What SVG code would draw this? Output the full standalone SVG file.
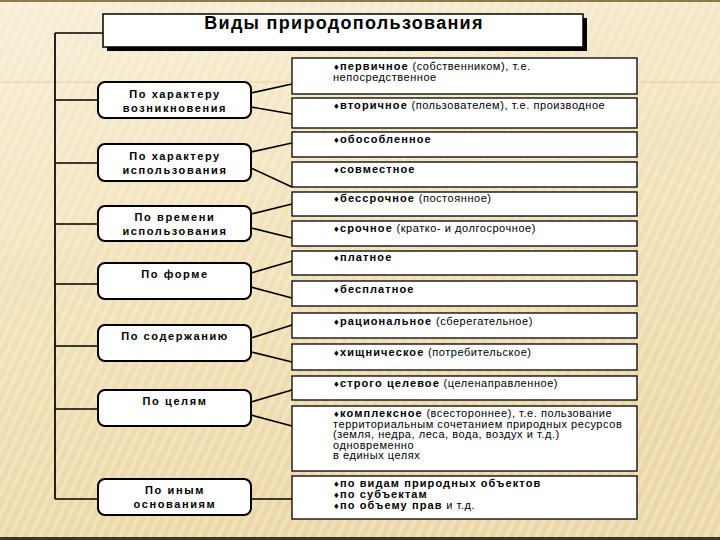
<svg xmlns="http://www.w3.org/2000/svg" width="720" height="540" viewBox="0 0 720 540">
<defs>
<linearGradient id="bg" x1="0" y1="0" x2="0.3" y2="1">
<stop offset="0" stop-color="#f8eed6"/>
<stop offset="0.5" stop-color="#f2e2b9"/>
<stop offset="1" stop-color="#ecd8a6"/>
</linearGradient>
<pattern id="stripes" width="9" height="9" patternUnits="userSpaceOnUse" patternTransform="rotate(25)">
<rect x="0" y="0" width="4" height="9" fill="#ffffff" fill-opacity="0.22"/>
</pattern>
<style>
.lbox{fill:#ffffff;stroke:#000000;stroke-width:2}
.rbox{fill:#ffffff;stroke:#000000;stroke-width:1.3}
.conn{stroke:#000000;stroke-width:1.7;fill:none}
.lt{font-family:"Liberation Sans",Arial,sans-serif;font-size:11px;font-weight:bold;letter-spacing:1.6px;text-anchor:middle;fill:#000}
.rt{font-family:"Liberation Sans",Arial,sans-serif;font-size:11px;letter-spacing:0.55px;fill:#000}
.b{font-weight:bold;letter-spacing:1.1px}
.d{font-family:"DejaVu Sans",sans-serif;font-size:7.5px;letter-spacing:0.3px}
.title{font-family:"Liberation Sans",Arial,sans-serif;font-size:18px;font-weight:bold;letter-spacing:1.3px;text-anchor:middle;fill:#000}
</style>
</defs>
<rect x="0" y="0" width="720" height="540" fill="url(#bg)"/>
<rect x="0" y="0" width="720" height="540" fill="url(#stripes)"/>
<line x1="0" y1="82" x2="720" y2="82" stroke="#e6c38c" stroke-width="1" stroke-opacity="0.7"/>
<rect x="0" y="0" width="720" height="2" fill="#8a7a4a"/>
<rect x="0" y="537" width="720" height="3" fill="#3b3526"/>

<g id="connectors">
<path class="conn" d="M55,33 L103,33 M55,33 L55,499 M55,100 L98,100 M55,163 L98,163 M55,224 L98,224 M55,284 L98,284 M55,346 L98,346 M55,409 L98,409 M55,499 L98,499"/>
<path class="conn" d="M251,93 L292,84 M251,107 L292,114 M251,152 L292,143 M251,168 L292,187 M251,214 L292,204 M251,228 L292,238 M251,273 L292,261 M251,287 L292,298 M251,338 L292,325 M251,352 L292,362 M251,402 L292,390 M251,415 L292,426 M251,499 L292,499"/>
</g>

<g id="title">
<rect x="107" y="18" width="480" height="33" fill="#000"/>
<rect x="103" y="14" width="480" height="33" fill="#fff" stroke="#000" stroke-width="1.5"/>
<text class="title" x="344" y="29">Виды природопользования</text>
</g>

<g id="l1"><rect class="lbox" x="98" y="82" width="153" height="36" rx="7"/>
<text class="lt" x="175" y="98">По характеру</text><text class="lt" x="175" y="112">возникновения</text></g>
<g id="l2"><rect class="lbox" x="98" y="144" width="153" height="37" rx="7"/>
<text class="lt" x="175" y="160">По характеру</text><text class="lt" x="175" y="174">использования</text></g>
<g id="l3"><rect class="lbox" x="98" y="206" width="153" height="35" rx="7"/>
<text class="lt" x="175" y="221">По времени</text><text class="lt" x="175" y="235">использования</text></g>
<g id="l4"><rect class="lbox" x="98" y="263" width="153" height="36" rx="7"/>
<text class="lt" x="175" y="278">По форме</text></g>
<g id="l5"><rect class="lbox" x="98" y="325" width="153" height="36" rx="7"/>
<text class="lt" x="175" y="340">По содержанию</text></g>
<g id="l6"><rect class="lbox" x="98" y="390" width="153" height="36" rx="7"/>
<text class="lt" x="175" y="405">По целям</text></g>
<g id="l7"><rect class="lbox" x="98" y="479" width="153" height="36" rx="7"/>
<text class="lt" x="175" y="494">По иным</text><text class="lt" x="175" y="508">основаниям</text></g>

<g id="r1"><rect class="rbox" x="292" y="58" width="345" height="36"/>
<text class="rt" x="333" y="69.5"><tspan class="d">♦</tspan><tspan class="b">первичное</tspan> (собственником), т.е.</text>
<text class="rt" x="333" y="80.5">непосредственное</text></g>
<g id="r2"><rect class="rbox" x="292" y="98" width="345" height="30"/>
<text class="rt" x="333" y="109"><tspan class="d">♦</tspan><tspan class="b">вторичное</tspan> (пользователем), т.е. производное</text></g>
<g id="r3"><rect class="rbox" x="292" y="132" width="345" height="25"/>
<text class="rt" x="333" y="143"><tspan class="d">♦</tspan><tspan class="b">обособленное</tspan></text></g>
<g id="r4"><rect class="rbox" x="292" y="162" width="345" height="25"/>
<text class="rt" x="333" y="173"><tspan class="d">♦</tspan><tspan class="b">совместное</tspan></text></g>
<g id="r5"><rect class="rbox" x="292" y="192" width="345" height="24"/>
<text class="rt" x="333" y="202"><tspan class="d">♦</tspan><tspan class="b">бессрочное</tspan> (постоянное)</text></g>
<g id="r6"><rect class="rbox" x="292" y="221" width="345" height="25"/>
<text class="rt" x="333" y="232"><tspan class="d">♦</tspan><tspan class="b">срочное</tspan> (кратко- и долгосрочное)</text></g>
<g id="r7"><rect class="rbox" x="292" y="251" width="345" height="24"/>
<text class="rt" x="333" y="261"><tspan class="d">♦</tspan><tspan class="b">платное</tspan></text></g>
<g id="r8"><rect class="rbox" x="292" y="281" width="345" height="25"/>
<text class="rt" x="333" y="293"><tspan class="d">♦</tspan><tspan class="b">бесплатное</tspan></text></g>
<g id="r9"><rect class="rbox" x="292" y="313" width="345" height="25"/>
<text class="rt" x="333" y="325"><tspan class="d">♦</tspan><tspan class="b">рациональное</tspan> (сберегательное)</text></g>
<g id="r10"><rect class="rbox" x="292" y="344" width="345" height="26"/>
<text class="rt" x="333" y="356"><tspan class="d">♦</tspan><tspan class="b">хищническое</tspan> (потребительское)</text></g>
<g id="r11"><rect class="rbox" x="292" y="376" width="345" height="24"/>
<text class="rt" x="333" y="387"><tspan class="d">♦</tspan><tspan class="b">строго целевое</tspan> (целенаправленное)</text></g>
<g id="r12"><rect class="rbox" x="292" y="406" width="345" height="65"/>
<text class="rt" x="333" y="417"><tspan class="d">♦</tspan><tspan class="b">комплексное</tspan> (всестороннее), т.е. пользование</text>
<text class="rt" x="333" y="427.5">территориальным сочетанием природных ресурсов</text>
<text class="rt" x="333" y="438">(земля, недра, леса, вода, воздух и т.д.)</text>
<text class="rt" x="333" y="448.5">одновременно</text>
<text class="rt" x="333" y="459">в единых целях</text></g>
<g id="r13"><rect class="rbox" x="292" y="476" width="345" height="43"/>
<text class="rt" x="333" y="486.5"><tspan class="d">♦</tspan><tspan class="b">по видам природных объектов</tspan></text>
<text class="rt" x="333" y="497.5"><tspan class="d">♦</tspan><tspan class="b">по субъектам</tspan></text>
<text class="rt" x="333" y="508.5"><tspan class="d">♦</tspan><tspan class="b">по объему прав</tspan> и т.д.</text></g>
</svg>
